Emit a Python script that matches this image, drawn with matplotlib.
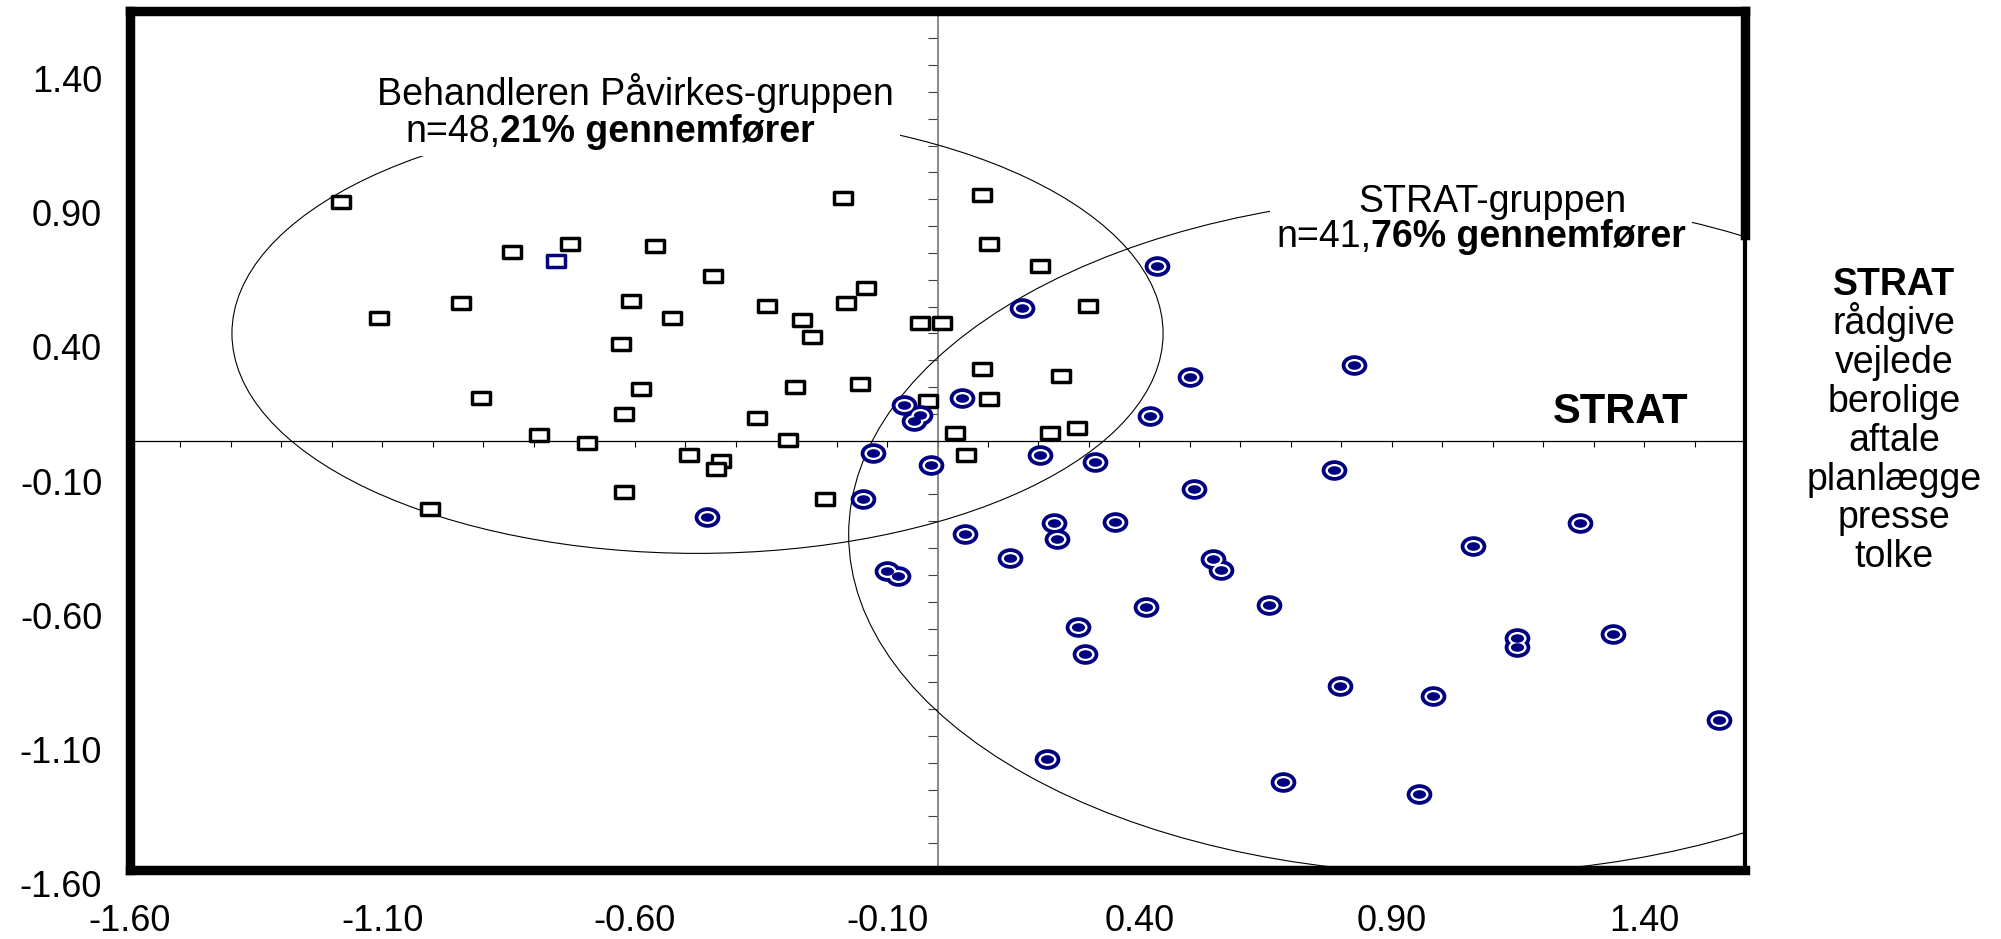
import numpy as np
import matplotlib
matplotlib.use("Agg")
import matplotlib.pyplot as plt
from matplotlib.path import Path
from matplotlib.markers import MarkerStyle
from matplotlib.patches import Ellipse, Rectangle
import matplotlib.transforms as mtransforms

plt.rcParams['font.family'] = ['Liberation Sans', 'DejaVu Sans']

# ---------------- data ----------------
# "Behandleren Påvirkes-gruppen" (open squares)
square_x = [-1.181, -0.844, -0.729, -0.560, -0.945, -1.106, -0.608, -0.526, -0.628,
            -0.588, -0.904, -0.621, -0.790, -0.695, -0.493, -0.621, -1.005,
            -0.187, 0.089, 0.102, 0.203, -0.445, -0.141, -0.337, -0.182, 0.298,
            -0.269, -0.034, 0.008, -0.249, 0.089, 0.244, -0.282, -0.154, -0.019,
            0.102, -0.357, -0.296, 0.035, 0.222, 0.277, -0.428, -0.438, 0.056, -0.222]
square_y = [0.889, 0.704, 0.732, 0.724, 0.514, 0.459, 0.521, 0.459, 0.359,
            0.193, 0.158, 0.101, 0.021, -0.007, -0.053, -0.190, -0.255,
            0.906, 0.916, 0.733, 0.651, 0.615, 0.568, 0.503, 0.514, 0.503,
            0.450, 0.440, 0.440, 0.385, 0.267, 0.240, 0.201, 0.210, 0.148,
            0.157, 0.083, 0.003, 0.028, 0.028, 0.048, -0.076, -0.107, -0.053, -0.217]
# one square drawn in blue
blue_square_x = [-0.755]
blue_square_y = [0.670]

# "STRAT-gruppen" (bullseye circles)
circle_x = [-0.457, 0.434, 0.168, 0.500, 0.049, -0.067, -0.035, -0.046, 0.421, -0.128,
            -0.012, 0.204, 0.312, 0.508, -0.147, 0.231, 0.351, 0.055, 0.825, 0.786,
            1.273, 0.237, 0.143, -0.101, -0.078, 0.545, 0.562, 0.413, 0.279, 0.292,
            0.217, 1.061, 0.656, 1.149, 1.149, 1.339, 0.798, 0.981, 1.548, 0.684, 0.954]
circle_y = [-0.283, 0.651, 0.493, 0.239, 0.158, 0.132, 0.096, 0.075, 0.093, -0.045,
            -0.091, -0.053, -0.081, -0.181, -0.219, -0.308, -0.302, -0.348, 0.282, -0.109,
            -0.308, -0.366, -0.438, -0.485, -0.504, -0.440, -0.482, -0.621, -0.693, -0.795,
            -1.188, -0.392, -0.612, -0.737, -0.770, -0.722, -0.914, -0.952, -1.041, -1.271, -1.317]

# group ellipses: (center x, center y, semi-axis x, semi-axis y)
ellipse_behandler = (-0.4755, 0.40, 0.9225, 0.820)
ellipse_strat = (1.0246, -0.350, 1.2006, 1.265)

x_ticks = [-1.60, -1.10, -0.60, -0.10, 0.40, 0.90, 1.40]
y_ticks = [1.40, 0.90, 0.40, -0.10, -0.60, -1.10, -1.60]

group1_line1 = "Behandleren Påvirkes-gruppen"
group1_line2 = [("n=48,", "normal"), ("21% gennemfører", "bold")]
group2_line1 = "STRAT-gruppen"
group2_line2 = [("n=41,", "normal"), ("76% gennemfører", "bold")]
axis_label = "STRAT"
side_title = "STRAT"
side_words = ["rådgive", "vejlede", "berolige", "aftale", "planlægge", "presse", "tolke"]

NAVY = "#000080"

# ---------------- figure ----------------
W, H = 2001, 939
fig = plt.figure(figsize=(W / 100, H / 100), dpi=100)
pos = [130 / W, 69 / H, 1615 / W, 858.6 / H]

# lower axes: the zero axis lines with small ticks
axl = fig.add_axes(pos, zorder=1)
axl.set_xlim(-1.6, 1.6)
axl.set_ylim(-1.6, 1.6)
for s in ("top", "right"):
    axl.spines[s].set_visible(False)
axl.spines["left"].set_position(("data", 0))
axl.spines["bottom"].set_position(("data", 0))
axl.spines["left"].set_color("#808080")
axl.spines["left"].set_linewidth(1.3)
axl.spines["bottom"].set_color("black")
axl.spines["bottom"].set_linewidth(0.9)
minor = np.round(np.arange(-15, 16) / 10, 2)
axl.set_xticks(minor)
axl.set_yticks(minor)
axl.tick_params(axis="x", direction="out", length=4, width=0.8, color="black",
                labelbottom=False)
axl.tick_params(axis="y", direction="out", length=7, width=0.8, color="#404040",
                labelleft=False)

# main axes
ax = fig.add_axes(pos, zorder=2)
ax.patch.set_visible(False)
ax.set_xlim(-1.6, 1.6)
ax.set_ylim(-1.6, 1.6)
ax.set_xticks(x_ticks, [f"{v:.2f}" for v in x_ticks])
ax.set_yticks(y_ticks, [f"{v:.2f}" for v in y_ticks], va="top")
ax.tick_params(axis="x", length=0, pad=24.5, labelsize=26)
ax.tick_params(axis="y", length=0, pad=20, labelsize=26)
for s in ("left", "top", "bottom"):
    ax.spines[s].set_linewidth(6.8)
    ax.spines[s].set_capstyle("projecting")
ax.spines["right"].set_linewidth(3.0)
ax.spines["right"].set_capstyle("projecting")
ax.plot([1, 1], [0.7396, 1.0], transform=ax.transAxes, color="black", lw=6.8,
        solid_capstyle="projecting", clip_on=False, zorder=7)

# ellipses
for cx, cy, a, b in (ellipse_behandler, ellipse_strat):
    ax.add_patch(Ellipse((cx, cy), 2 * a, 2 * b, fill=False, edgecolor="black",
                         lw=0.8, zorder=2))

# markers
def ellipse_marker(aspect):
    c = Path.unit_circle()
    return Path(c.vertices * np.array([1.0, aspect]), c.codes)

rect_path = Path([(-1, -0.7), (1, -0.7), (1, 0.7), (-1, 0.7), (-1, -0.7)],
                 [Path.MOVETO, Path.LINETO, Path.LINETO, Path.LINETO, Path.CLOSEPOLY])
rect_marker = MarkerStyle(rect_path, joinstyle="miter")

ax.plot(square_x, square_y, ls="none", marker=rect_marker, ms=12.5, mfc="white",
        mec="black", mew=2.5, zorder=4)
ax.plot(blue_square_x, blue_square_y, ls="none", marker=rect_marker, ms=12.5,
        mfc="white", mec=NAVY, mew=2.5, zorder=4)

ax.plot(circle_x, circle_y, ls="none", marker=ellipse_marker(0.8), ms=18.5,
        mfc=NAVY, mec="none", zorder=4)
ax.plot(circle_x, circle_y, ls="none", marker=ellipse_marker(0.72), ms=13,
        mfc="white", mec="none", zorder=4)
ax.plot(circle_x, circle_y, ls="none", marker=ellipse_marker(0.65), ms=9.5,
        mfc=NAVY, mec="none", zorder=4)

# group texts with white backdrop
renderer = fig.canvas.get_renderer()

def centered_line(x, y, parts, size):
    arts = [ax.text(x, y, s, fontsize=size, fontweight=w, ha="left",
                    va="baseline", zorder=6) for s, w in parts]
    widths = [t.get_window_extent(renderer=renderer).width for t in arts]
    off = -sum(widths) / 2
    for t, wd in zip(arts, widths):
        t.set_transform(ax.transData + mtransforms.Affine2D().translate(off, 0))
        off += wd
    return arts

def backdrop(arts, pad=6):
    bb = mtransforms.Bbox.union([t.get_window_extent(renderer=renderer) for t in arts])
    ax.add_patch(Rectangle((bb.x0 - pad, bb.y0 - pad), bb.width + 2 * pad,
                           bb.height + 2 * pad, transform=mtransforms.IdentityTransform(),
                           facecolor="white", edgecolor="none", zorder=5))

g1 = centered_line(-0.598, 1.251, [(group1_line1, "normal")], 27)
g1 += centered_line(-0.649, 1.113, group1_line2, 27)
backdrop(g1)
g2 = centered_line(1.100, 0.854, [(group2_line1, "normal")], 27)
g2 += centered_line(1.077, 0.723, group2_line2, 27)
backdrop(g2)

ax.text(1.353, 0.066, axis_label, fontsize=30, fontweight="bold", ha="center",
        va="baseline", zorder=6)

# right-hand description
xs = 1894 / W
fig.text(xs, 1 - 295 / H, side_title, fontsize=27, fontweight="bold",
         ha="center", va="baseline")
for i, w in enumerate(side_words):
    fig.text(xs, 1 - (295 + 38.9 * (i + 1)) / H, w, fontsize=27,
             ha="center", va="baseline")

fig.savefig("out.png", dpi=100)
